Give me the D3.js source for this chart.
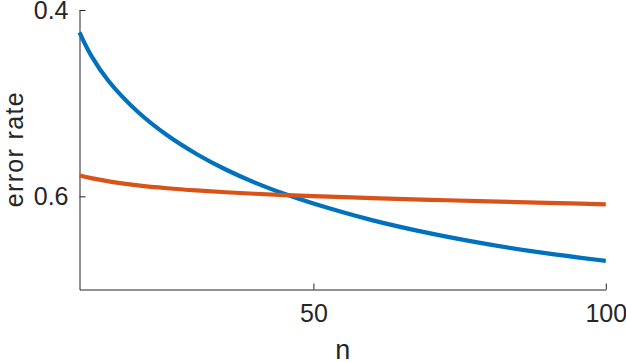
<!DOCTYPE html>
<html>
<head>
<meta charset="utf-8">
<script src="https://cdn.jsdelivr.net/npm/d3@7"></script>
<style>
    body { margin: 0; background: #fff; }
    .axis text { font-family: "Liberation Sans", Arial, sans-serif; font-size: 25px; fill: #262626; }
    .axis path, .axis line { stroke: #262626; stroke-width: 1; }
    .axis-label { font-family: "Liberation Sans", Arial, sans-serif; font-size: 25px; fill: #262626; }
</style>
</head>
<body>
<script>
// sample sizes
var nValues = [10, 12, 15, 20, 25, 30, 35, 40, 45, 50, 60, 70, 80, 90, 100]
// blue series
var blueRates = [0.424, 0.449, 0.4765, 0.5095, 0.5345, 0.5545, 0.5712, 0.5853, 0.5973, 0.6077, 0.6255, 0.6398, 0.6516, 0.6613, 0.6692]
// orange series
var orangeRates = [0.5777, 0.5805, 0.584, 0.5882, 0.5913, 0.5937, 0.5956, 0.5972, 0.5986, 0.5998, 0.6019, 0.6037, 0.6054, 0.607, 0.6086]

var xTicks = [50, 100]
var yTicks = [0.4, 0.6]

const width = 626
const height = 362

// plot box edges
const plotLeft = 79.5
const plotRight = 605.8
const plotTop = 10
const plotBottom = 289.5

var svg = d3.select("body")
    .append("svg")
    .attr("width", width)
    .attr("height", height)

var xScale = d3.scaleLinear()
    .domain([10, 100])
    .range([plotLeft, plotRight])

// y axis runs downwards (reversed)
var yScale = d3.scaleLinear()
    .domain([0.4, 0.7])
    .range([plotTop, plotBottom])

var xAxis = d3.axisBottom(xScale)
    .tickValues(xTicks)
    .tickSizeInner(-6)
    .tickSizeOuter(0)
    .tickPadding(15)

var yAxis = d3.axisLeft(yScale)
    .tickValues(yTicks)
    .tickFormat(d3.format(".1f"))
    .tickSizeInner(-6)
    .tickSizeOuter(0)
    .tickPadding(11)

//draw x axis
svg.append("g")
    .attr("class", "axis")
    .attr("transform", "translate(0," + plotBottom + ")")
    .call(xAxis)

//draw y axis
svg.append("g")
    .attr("class", "axis")
    .attr("transform", "translate(" + plotLeft + ",0)")
    .call(yAxis)

//labels
svg.append("text")
    .attr("class", "axis-label")
    .attr("text-anchor", "middle")
    .attr("x", (plotLeft + plotRight) / 2)
    .attr("y", 359)
    .style("font-size", "27px")
    .text("n")

svg.append("text")
    .attr("class", "axis-label")
    .attr("text-anchor", "middle")
    .attr("transform", "rotate(-90)")
    .attr("x", -(plotTop + plotBottom) / 2)
    .attr("y", 23)
    .attr("textLength", 115)
    .attr("lengthAdjust", "spacing")
    .text("error rate")

var line = d3.line()
    .x((d) => xScale(d[0]))
    .y((d) => yScale(d[1]))
    .curve(d3.curveCatmullRom)

var series = [
    { values: blueRates, color: "#0072BD" },
    { values: orangeRates, color: "#D95319" }
]

series.forEach(function (s) {
    svg.append("path")
        .datum(nValues.map((n, i) => [n, s.values[i]]))
        .attr("fill", "none")
        .attr("stroke", s.color)
        .attr("stroke-width", 4.2)
        .attr("d", line)
})
</script>
</body>
</html>
